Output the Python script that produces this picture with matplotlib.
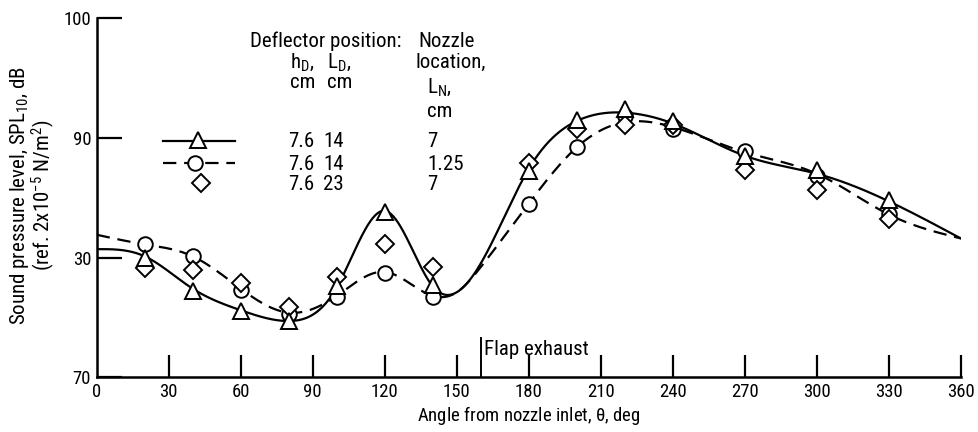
import numpy as np
import matplotlib
matplotlib.use("Agg")
import matplotlib.pyplot as plt
from matplotlib.lines import Line2D
from matplotlib import font_manager

# ---- fonts: prefer a narrow face ---------------------------------------
entries = font_manager.fontManager.ttflist
names = {f.name for f in entries}
narrow = None
for cand in ["Liberation Sans Narrow", "Roboto Condensed", "Open Sans Condensed", "DejaVu Sans Condensed"]:
    if cand in names:
        narrow = cand
        break
stretch = "normal"
if narrow is None:
    cond = [f for f in entries if f.name == "DejaVu Sans" and str(f.stretch) in ("condensed", "semi-condensed")]
    narrow = "DejaVu Sans"
    if cond:
        stretch = "condensed"
plt.rcParams["font.family"] = [narrow, "DejaVu Sans"]
plt.rcParams["font.stretch"] = stretch
plt.rcParams["mathtext.fontset"] = "custom"
plt.rcParams["mathtext.rm"] = narrow
plt.rcParams["mathtext.default"] = "rm"

# ---- measured data -----------------------------------------------------
angles = [20, 40, 60, 80, 100, 120, 140, 180, 200, 220, 240, 270, 300, 330]
spl_ld14_ln7 = [80.0, 77.2, 75.5, 74.7, 77.6, 83.8, 77.7, 87.2, 91.5, 92.4, 91.4, 88.5, 87.3, 84.8]
spl_ld14_ln125 = [81.1, 80.1, 77.3, 75.3, 76.7, 78.7, 76.7, 84.5, 89.2, 91.8, 90.7, 88.9, 86.8, 83.6]
spl_ld23_ln7 = [79.1, 79.0, 77.9, 75.9, 78.4, 81.1, 79.2, 87.9, 90.7, 91.1, 91.1, 87.3, 85.6, 83.2]

# faired curves (angle, level)
fair_angles = [0, 20, 40, 60, 80, 100, 120, 140, 150, 160, 180, 200, 220, 240, 270, 300, 330, 360]
fair_ln7 = [80.7, 80.1, 77.4, 75.6, 74.7, 77.5, 83.9, 77.6, 77.1, 79.5, 87.4, 91.4, 92.1, 91.2, 88.5, 87.0, 84.7, 81.6]
fair_ln125 = [81.9, 81.1, 80.1, 77.4, 75.4, 76.8, 78.8, 76.8, 77.1, 79.2, 84.5, 89.2, 91.3, 90.9, 88.8, 87.0, 83.6, 81.6]

x_ticks = [0, 30, 60, 90, 120, 150, 180, 210, 240, 270, 300, 330, 360]
y_ticks = [70, 80, 90, 100]
y_tick_labels = ["70", "30", "90", "100"]

legend_rows = [("7.6", "14", "7"), ("7.6", "14", "1.25"), ("7.6", "23", "7")]


def natural_spline(xk, yk, xs):
    xk = np.asarray(xk, float)
    yk = np.asarray(yk, float)
    n = len(xk)
    h = np.diff(xk)
    A = np.zeros((n, n))
    r = np.zeros(n)
    A[0, 0] = A[-1, -1] = 1.0
    for i in range(1, n - 1):
        A[i, i - 1] = h[i - 1]
        A[i, i] = 2 * (h[i - 1] + h[i])
        A[i, i + 1] = h[i]
        r[i] = 3 * ((yk[i + 1] - yk[i]) / h[i] - (yk[i] - yk[i - 1]) / h[i - 1])
    c = np.linalg.solve(A, r)
    b = (yk[1:] - yk[:-1]) / h - h * (2 * c[:-1] + c[1:]) / 3
    d = (c[1:] - c[:-1]) / (3 * h)
    idx = np.clip(np.searchsorted(xk, xs) - 1, 0, n - 2)
    dx = xs - xk[idx]
    return yk[idx] + b[idx] * dx + c[idx] * dx ** 2 + d[idx] * dx ** 3


fig = plt.figure(figsize=(9.79, 4.32), dpi=100)
ax = fig.add_axes([0.0988, 0.1266, 0.8825, 0.8317])

FS = 15       # key, annotations, axis titles
FT = 13.5     # tick labels
LW = 1.6
dash = (0, (6, 3.5))
mk = dict(mfc="white", mec="black", mew=1.4, ls="none", zorder=4)

xs = np.linspace(0, 360, 721)
ax.plot(xs, natural_spline(fair_angles, fair_ln7, xs), color="black", lw=LW, zorder=2)
ax.plot(xs, natural_spline(fair_angles, fair_ln125, xs), color="black", lw=LW, ls=dash, zorder=2)

ax.plot(angles, spl_ld14_ln125, marker="o", ms=10.5, **mk)
ax.plot(angles, spl_ld23_ln7, marker="D", ms=9.5, **mk)
ax.plot(angles, spl_ld14_ln7, marker="^", ms=11.5, **mk)

ax.set_xlim(0, 360)
ax.set_ylim(70, 100)
for s in ("top", "right"):
    ax.spines[s].set_visible(False)
for s in ("left", "bottom"):
    ax.spines[s].set_linewidth(1.8)

ax.set_xticks(x_ticks)
ax.set_yticks(y_ticks)
ax.set_yticklabels(y_tick_labels)
ax.tick_params(axis="x", direction="in", length=16, width=1.6, pad=4, labelsize=FT)
ax.tick_params(axis="y", direction="in", length=18, width=1.6, pad=4, labelsize=FT)
ax.xaxis.get_major_ticks()[0].tick1line.set_visible(False)

ax.set_xlabel(r"Angle from nozzle inlet, $\theta$, deg", fontsize=FT, labelpad=2)

fig.text(20 / 979, 1 - 195 / 432, r"Sound pressure level, SPL$_{10}$, dB",
         rotation=90, ha="center", va="center", fontsize=FS)
fig.text(43 / 979, 1 - 195 / 432, r"(ref. 2x10$^{-5}$ N/m$^{2}$)",
         rotation=90, ha="center", va="center", fontsize=FS)

# flap exhaust marker
ax.plot([160, 160], [70, 73.3], color="black", lw=1.4, clip_on=False)
ax.text(161.5, 71.9, "Flap exhaust", fontsize=FS, ha="left", va="baseline")

# key
T = ax.transAxes
ax.text(0.1774, 0.920, "Deflector position:", transform=T, fontsize=FS, va="baseline")
ax.text(0.372, 0.920, "Nozzle", transform=T, fontsize=FS, va="baseline")
ax.text(0.2237, 0.861, r"h$_{D}$,", transform=T, fontsize=FS, va="baseline")
ax.text(0.2666, 0.861, r"L$_{D}$,", transform=T, fontsize=FS, va="baseline")
ax.text(0.3684, 0.861, "location,", transform=T, fontsize=FS, va="baseline")
ax.text(0.2237, 0.805, "cm", transform=T, fontsize=FS, va="baseline")
ax.text(0.2666, 0.805, "cm", transform=T, fontsize=FS, va="baseline")
ax.text(0.3823, 0.792, r"L$_{N}$,", transform=T, fontsize=FS, va="baseline")
ax.text(0.3823, 0.724, "cm", transform=T, fontsize=FS, va="baseline")

row_base = [0.640, 0.577, 0.522]
for (h, ld, ln), yb in zip(legend_rows, row_base):
    ax.text(0.2215, yb, h, transform=T, fontsize=FS, va="baseline")
    ax.text(0.262, yb, ld, transform=T, fontsize=FS, va="baseline")
    ax.text(0.3823, yb, ln, transform=T, fontsize=FS, va="baseline")

ax.add_line(Line2D([0.0767, 0.160], [0.657, 0.657], transform=T, color="black", lw=LW))
ax.add_line(Line2D([0.117], [0.660], transform=T, marker="^", ms=11.5, **mk))
ax.add_line(Line2D([0.0767, 0.160], [0.597, 0.597], transform=T, color="black", lw=LW, ls=dash))
ax.add_line(Line2D([0.114], [0.597], transform=T, marker="o", ms=10.5, **mk))
ax.add_line(Line2D([0.121], [0.540], transform=T, marker="D", ms=9.5, **mk))

fig.savefig("out.png", dpi=100)
